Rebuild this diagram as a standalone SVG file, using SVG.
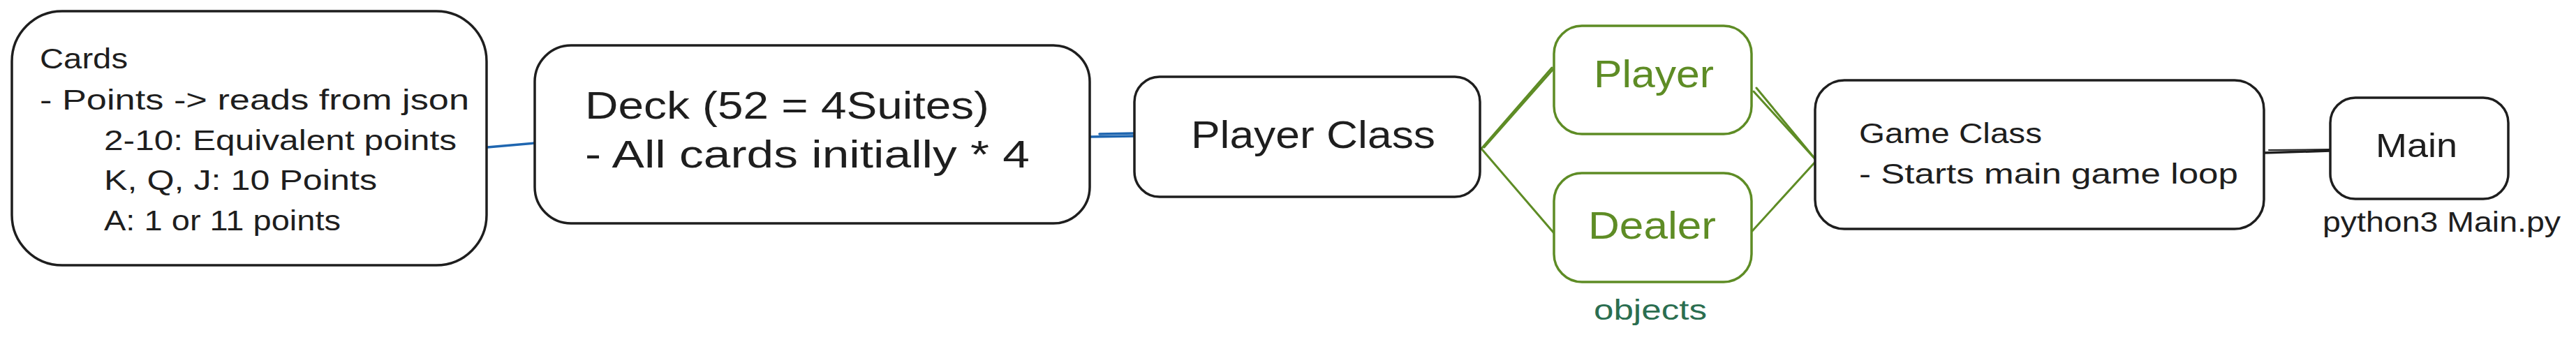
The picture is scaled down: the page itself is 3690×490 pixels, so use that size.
<svg xmlns="http://www.w3.org/2000/svg" width="3690" height="490" viewBox="0 0 3690 490">
<style>
.box{fill:#ffffff;stroke:#1e1e1e;stroke-width:3.5;stroke-linejoin:round}
.gbox{fill:#ffffff;stroke:#5e8c25;stroke-width:3.5;stroke-linejoin:round}
.t{font-family:"Liberation Sans",Arial,sans-serif;fill:#1e1e1e}
.s{font-size:40px}
.b{font-size:56px}
.m{font-size:48px}
.g{fill:#5e8c25}
.obj{fill:#2b6e50}
.blue{stroke:#1f66b0;stroke-width:3.5;fill:none;stroke-linecap:round}
.green{stroke:#5e8c25;stroke-width:3;fill:none;stroke-linecap:round}
.black{stroke:#1e1e1e;stroke-width:3.5;fill:none;stroke-linecap:round}
</style>
<rect width="3690" height="490" fill="#ffffff"/>
<g id="connectors">
<path class="blue" d="M698 211 L766 205"/>
<path class="blue" d="M1561 196 L1625 195"/>
<path class="blue" d="M1575 192 L1625 191"/>
<path class="green" d="M2122 213 L2223 97"/>
<path class="green" d="M2126 211 L2225 99"/>
<path class="green" d="M2122 213 L2226 334"/>
<path class="green" d="M2512 131 L2602 230"/>
<path class="green" d="M2516 126 L2602 230"/>
<path class="green" d="M2510 331 L2602 230"/>
<path class="black" d="M3243 219 L3338 216"/>
<path class="black" d="M3250 215 L3338 214" style="stroke-width:2"/>
</g>
<g id="cards">
<rect class="box" x="17" y="16" width="680" height="364" rx="72" ry="72"/>
<text class="t s" x="57" y="98" textLength="126" lengthAdjust="spacingAndGlyphs">Cards</text>
<text class="t s" x="57" y="157" textLength="615" lengthAdjust="spacingAndGlyphs">- Points -&gt; reads from json</text>
<text class="t s" x="149" y="215" textLength="505" lengthAdjust="spacingAndGlyphs">2-10: Equivalent points</text>
<text class="t s" x="149" y="272" textLength="391" lengthAdjust="spacingAndGlyphs">K, Q, J: 10 Points</text>
<text class="t s" x="149" y="330" textLength="339" lengthAdjust="spacingAndGlyphs">A: 1 or 11 points</text>
</g>
<g id="deck">
<rect class="box" x="766" y="65" width="795" height="255" rx="52" ry="52"/>
<text class="t b" x="838" y="170" textLength="579" lengthAdjust="spacingAndGlyphs">Deck (52 = 4Suites)</text>
<text class="t b" x="838" y="240" textLength="637" lengthAdjust="spacingAndGlyphs">- All cards initially * 4</text>
</g>
<g id="player-class">
<rect class="box" x="1625" y="110" width="495" height="172" rx="36" ry="36"/>
<text class="t b" x="1706" y="212" textLength="350" lengthAdjust="spacingAndGlyphs">Player Class</text>
</g>
<g id="player">
<rect class="gbox" x="2226" y="37" width="283" height="155" rx="40" ry="40"/>
<text class="t b g" x="2283" y="125" textLength="172" lengthAdjust="spacingAndGlyphs">Player</text>
</g>
<g id="dealer">
<rect class="gbox" x="2226" y="248" width="283" height="156" rx="40" ry="40"/>
<text class="t b g" x="2275" y="342" textLength="183" lengthAdjust="spacingAndGlyphs">Dealer</text>
</g>
<g id="objects-label">
<text class="t s obj" x="2283" y="458" textLength="162" lengthAdjust="spacingAndGlyphs">objects</text>
</g>
<g id="game-class">
<rect class="box" x="2600" y="115" width="643" height="213" rx="42" ry="42"/>
<text class="t s" x="2663" y="205" textLength="262" lengthAdjust="spacingAndGlyphs">Game Class</text>
<text class="t s" x="2663" y="263" textLength="543" lengthAdjust="spacingAndGlyphs">- Starts main game loop</text>
</g>
<g id="main">
<rect class="box" x="3338" y="140" width="255" height="145" rx="36" ry="36"/>
<text class="t m" x="3403" y="225" textLength="117" lengthAdjust="spacingAndGlyphs">Main</text>
</g>
<g id="main-label">
<text class="t s" x="3327" y="332" textLength="341" lengthAdjust="spacingAndGlyphs">python3 Main.py</text>
</g>
</svg>
